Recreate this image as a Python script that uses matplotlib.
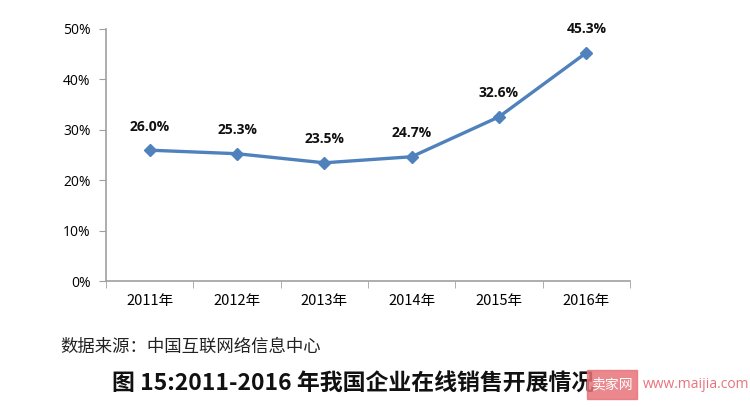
import numpy as np
import matplotlib.pyplot as plt
from matplotlib.patches import Rectangle

plt.rcParams['font.family'] = ['Open Sans', 'Noto Sans CJK SC', 'DejaVu Sans']

years = ['2011年', '2012年', '2013年', '2014年', '2015年', '2016年']
rates = [26.0, 25.3, 23.5, 24.7, 32.6, 45.3]
yticks = [0, 10, 20, 30, 40, 50]

fig = plt.figure(figsize=(7.5, 4.07), dpi=100)
ax = fig.add_axes([0.1413, 0.3084, 0.6987, 0.6204])

x = np.arange(len(years))
ax.plot(x, rates, color='#4F81BD', lw=2.4, marker='D', ms=6.5, zorder=3)
for xi, v in zip(x, rates):
    ax.annotate(f'{v:.1f}%', (xi, v), xytext=(0, 12), textcoords='offset points',
                ha='center', va='bottom', fontsize=10, fontweight='bold', color='#111111')

ax.set_xlim(-0.5, 5.5)
ax.set_ylim(0, 50)
ax.set_yticks(yticks)
ax.set_yticklabels([f'{t}%' for t in yticks], fontsize=10)
ax.set_xticks(x)
ax.set_xticklabels(years, fontsize=10.5, family=['Noto Sans CJK SC'])
ax.set_xticks(np.arange(-0.5, 6, 1), minor=True)
ax.tick_params(axis='x', which='major', length=0, pad=9)
ax.tick_params(axis='x', which='minor', length=5, color='#A0A0A0')
ax.tick_params(axis='y', length=5, color='#A0A0A0', pad=6)

for s in ['top', 'right']:
    ax.spines[s].set_visible(False)
for s in ['left', 'bottom']:
    ax.spines[s].set_color('#A0A0A0')
    ax.spines[s].set_linewidth(1.2)

fig.text(0.08, 0.147, '数据来源：中国互联网络信息中心', fontsize=12.5,
         family=['Noto Sans CJK SC'], color='#222222', va='center')
fig.text(0.15, 0.055, '图 15:2011-2016 年我国企业在线销售开展情况', fontsize=16.5,
         fontweight='bold', family=['Noto Sans CJK SC'], color='#111111', va='center')

# watermark
fig.patches.append(Rectangle((0.783, 0.02), 0.066, 0.07, transform=fig.transFigure,
                             color='#E8737A', alpha=0.85, zorder=5))
fig.text(0.816, 0.055, '卖家网', fontsize=10, color='white', ha='center', va='center',
         family=['Noto Sans CJK SC'], zorder=6)
fig.text(0.857, 0.055, 'www.maijia.com', fontsize=10, color='#E8737A', va='center', zorder=6)

fig.savefig('out.png', dpi=100)
